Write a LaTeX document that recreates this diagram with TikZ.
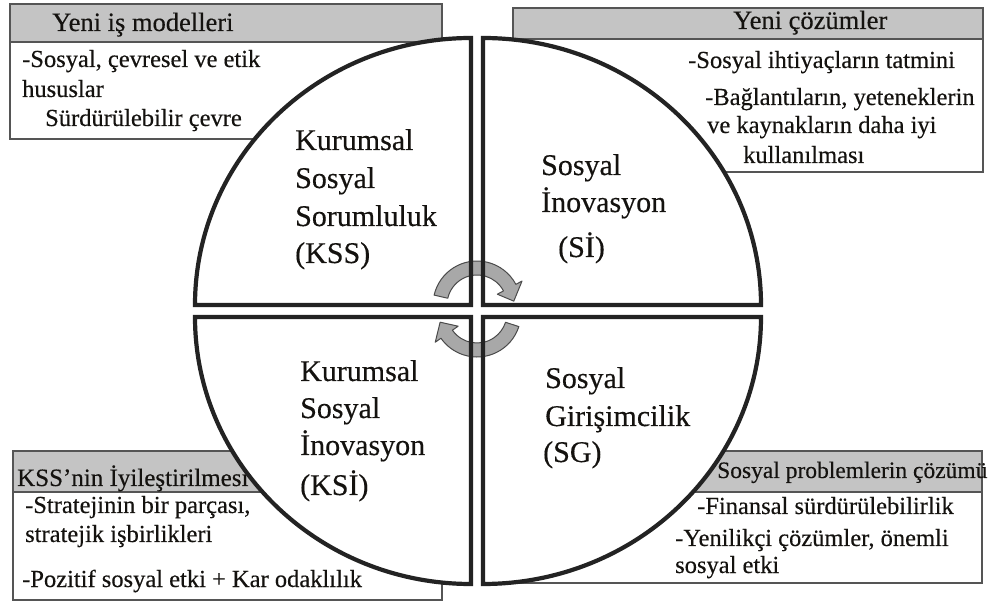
\documentclass[tikz,border=0pt]{standalone}
\usepackage{fontspec}
\setmainfont{Liberation Serif}[UprightFeatures={FakeBold=0.35}]
\definecolor{hdrgray}{RGB}{196,196,196}
\definecolor{boxline}{RGB}{85,85,85}
\definecolor{quadline}{RGB}{35,35,35}
\definecolor{arrowgray}{RGB}{168,168,168}
\definecolor{arrowline}{RGB}{75,75,75}
\definecolor{ink}{RGB}{20,18,15}
\tikzset{
  quad/.style={draw=quadline, line width=4.2pt, line join=miter},
  bodybox/.style={draw=boxline, line width=1.8pt, fill=white},
  hdrbox/.style={draw=boxline, line width=1.8pt, fill=hdrgray},
  big/.style={anchor=base west, inner sep=0pt, text=ink, font=\fontsize{30}{36}\selectfont},
  txt/.style={anchor=base west, inner sep=0pt, text=ink, font=\fontsize{24.5}{30}\selectfont},
  hdrtxt/.style={txt, font=\fontsize{26.5}{30}\selectfont},
  turn/.style={fill=arrowgray, draw=arrowline, line width=1pt, line join=round}
}
\begin{document}
\begin{tikzpicture}[x=1pt, y=1pt]
\useasboundingbox (0,0) rectangle (994,603);

% --- corner boxes ---
\draw[bodybox] (10,464) rectangle (442,561);
\draw[hdrbox]  (10,561) rectangle (442,599);
\draw[bodybox] (513,431) rectangle (983,564);
\draw[hdrbox]  (513,564) rectangle (983,595);
\draw[bodybox] (13,3) rectangle (442,111);
\draw[hdrbox]  (13,111) rectangle (442,152);
\draw[bodybox] (513,20) rectangle (982,111);
\draw[hdrbox]  (513,111) rectangle (982,152);

% top left box
\node[hdrtxt] (tlh) at (52,572) {Yeni iş modelleri};
\node[txt] (tl1) at (22,536) {-Sosyal, çevresel ve etik};
\node[txt] (tl2) at (22,506) {hususlar};
\node[txt] (tl3) at (45,477) {Sürdürülebilir çevre};

% top right box
\node[hdrtxt] (trh) at (733,574) {Yeni çözümler};
\node[txt] (tr1) at (688,535) {-Sosyal ihtiyaçların tatmini};
\node[txt] (tr2) at (705,498) {-Bağlantıların, yeteneklerin};
\node[txt] (tr3) at (707,470) {ve kaynakların daha iyi};
\node[txt] (tr4) at (743,440) {kullanılması};

% bottom left box
\node[hdrtxt, font=\fontsize{25}{30}\selectfont] (blh) at (17,117) {KSS’nin İyileştirilmesi};
\node[txt] (bl1) at (25,90) {-Stratejinin bir parçası,};
\node[txt] (bl2) at (25,61) {stratejik işbirlikleri};
\node[txt] (bl3) at (22,16) {-Pozitif sosyal etki + Kar odaklılık};

% --- the four quadrants (white fill first) ---
\fill[white] (471,298) -- (195,298) arc[start angle=180, end angle=90, x radius=276, y radius=267] -- cycle;
\fill[white] (483,298) -- (483,565) arc[start angle=90, end angle=0, x radius=278, y radius=267] -- cycle;
\fill[white] (471,286) -- (195,286) arc[start angle=180, end angle=270, x radius=276, y radius=267] -- cycle;
\fill[white] (483,286) -- (761,286) arc[start angle=0, end angle=-90, x radius=278, y radius=267] -- cycle;

% bottom right box text overlaps the box border
\node[txt, font=\fontsize{23.5}{28}\selectfont] (brh) at (717,125) {Sosyal problemlerin çözümü};
\node[txt] (br1) at (697,89) {-Finansal sürdürülebilirlik};
\node[txt] (br2) at (675,57) {-Yenilikçi çözümler, önemli};
\node[txt] (br3) at (675,30) {sosyal etki};

% --- circular arrows in the centre ---
\begin{scope}[shift={(477,298)}]
  \draw[turn] (167:44) arc[start angle=167, end angle=28, radius=44]
    -- (28:51) -- (6:37) -- (28:23) -- (28:30)
    arc[start angle=28, end angle=167, radius=30] -- cycle;
\end{scope}
\begin{scope}[shift={(477,290)}]
  \draw[turn] (-18:44) arc[start angle=-18, end angle=-145, radius=44]
    -- (-145:51) -- (-166:38) -- (-145:23) -- (-145:30)
    arc[start angle=-145, end angle=-18, radius=30] -- cycle;
\end{scope}

% --- quadrant outlines ---
\draw[quad] (471,298) -- (195,298) arc[start angle=180, end angle=90, x radius=276, y radius=267] -- cycle;
\draw[quad] (483,298) -- (483,565) arc[start angle=90, end angle=0, x radius=278, y radius=267] -- cycle;
\draw[quad] (471,286) -- (195,286) arc[start angle=180, end angle=270, x radius=276, y radius=267] -- cycle;
\draw[quad] (483,286) -- (761,286) arc[start angle=0, end angle=-90, x radius=278, y radius=267] -- cycle;

% --- quadrant labels ---
\node[big] (kss1) at (295,453) {Kurumsal};
\node[big] (kss2) at (295,415) {Sosyal};
\node[big] (kss3) at (295,377) {Sorumluluk};
\node[big] (kss4) at (295,340) {(KSS)};

\node[big] (si1) at (541,428) {Sosyal};
\node[big] (si2) at (541,391) {İnovasyon};
\node[big] (si3) at (558,346) {(Sİ)};

\node[big] (ksi1) at (300,222) {Kurumsal};
\node[big] (ksi2) at (300,185) {Sosyal};
\node[big] (ksi3) at (300,148) {İnovasyon};
\node[big] (ksi4) at (300,108) {(KSİ)};

\node[big] (sg1) at (545,215) {Sosyal};
\node[big] (sg2) at (545,177) {Girişimcilik};
\node[big] (sg3) at (543,141) {(SG)};
\end{tikzpicture}
\end{document}
